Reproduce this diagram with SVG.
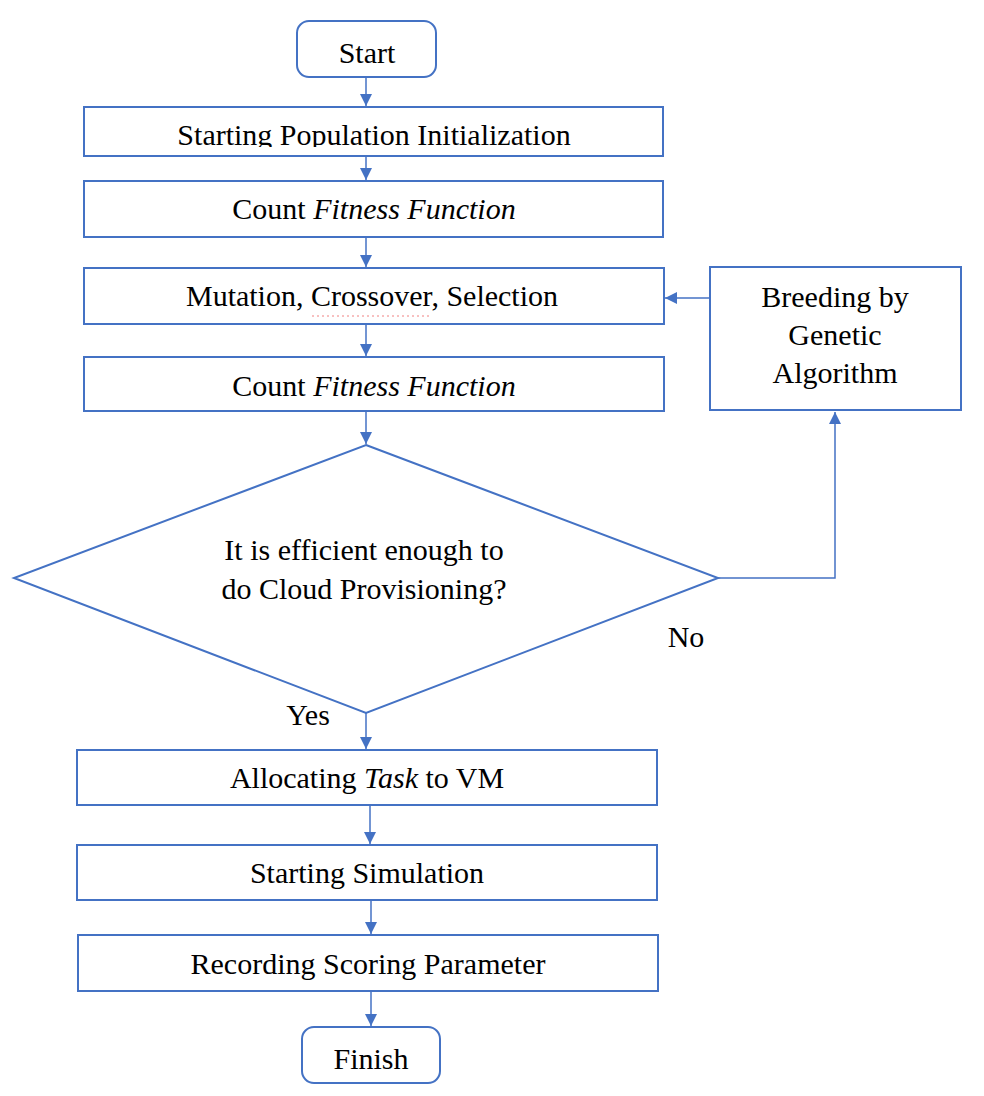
<svg xmlns="http://www.w3.org/2000/svg" width="984" height="1096" viewBox="0 0 984 1096">
<style>
.box{fill:#fff;stroke:#4472C4;stroke-width:2}
.ln{fill:none;stroke:#4472C4;stroke-width:1.5}
.t{font-family:"Liberation Serif","Times New Roman",serif;font-size:30px;fill:#000;text-anchor:middle}
.it{font-style:italic}
</style>
<defs>
<marker id="ah" markerWidth="12" markerHeight="12" refX="12" refY="6" orient="auto" markerUnits="userSpaceOnUse">
<path d="M0,0 L12,6 L0,12 Z" fill="#4472C4"/>
</marker>
<clipPath id="c1"><rect x="84" y="107" width="580" height="40"/></clipPath>
</defs>
<rect width="984" height="1096" fill="#fff"/>
<g id="connectors">
<line class="ln" x1="366" y1="78" x2="366" y2="106" marker-end="url(#ah)"/>
<line class="ln" x1="366" y1="156" x2="366" y2="180" marker-end="url(#ah)"/>
<line class="ln" x1="366" y1="237" x2="366" y2="267" marker-end="url(#ah)"/>
<line class="ln" x1="366" y1="324" x2="366" y2="356" marker-end="url(#ah)"/>
<line class="ln" x1="366" y1="411" x2="366" y2="444" marker-end="url(#ah)"/>
<line class="ln" x1="710" y1="298" x2="665" y2="298" marker-end="url(#ah)"/>
<polyline class="ln" points="718,578 835,578 835,412" marker-end="url(#ah)"/>
<line class="ln" x1="366" y1="713" x2="366" y2="749" marker-end="url(#ah)"/>
<line class="ln" x1="370" y1="805" x2="370" y2="844" marker-end="url(#ah)"/>
<line class="ln" x1="371" y1="900" x2="371" y2="934" marker-end="url(#ah)"/>
<line class="ln" x1="371" y1="991" x2="371" y2="1026" marker-end="url(#ah)"/>
<text class="t" x="686" y="647">No</text>
<text class="t" x="308" y="725">Yes</text>
</g>
<g id="start">
<rect class="box" x="297" y="21" width="139" height="56" rx="12"/>
<text class="t" x="367" y="63">Start</text>
</g>
<g id="init">
<rect class="box" x="84" y="107" width="579" height="49"/>
<text class="t" x="374" y="145" clip-path="url(#c1)">Starting Population Initialization</text>
</g>
<g id="fitness1">
<rect class="box" x="84" y="181" width="579" height="56"/>
<text class="t" x="374" y="219">Count <tspan class="it">Fitness Function</tspan></text>
</g>
<g id="mutation">
<rect class="box" x="84" y="268" width="580" height="56"/>
<text class="t" x="372" y="306">Mutation, Crossover, Selection</text>
<line x1="312" y1="316" x2="432" y2="316" stroke="#f08080" stroke-width="1" stroke-dasharray="2,3"/>
</g>
<g id="fitness2">
<rect class="box" x="84" y="357" width="580" height="54"/>
<text class="t" x="374" y="396">Count <tspan class="it">Fitness Function</tspan></text>
</g>
<g id="breeding">
<rect class="box" x="710" y="267" width="251" height="143"/>
<text class="t" x="835" y="307">Breeding by</text>
<text class="t" x="835" y="345">Genetic</text>
<text class="t" x="835" y="383">Algorithm</text>
</g>
<g id="decision">
<polygon class="box" points="366,445 718,578 366,713 14,578"/>
<text class="t" x="364" y="560">It is efficient enough to</text>
<text class="t" x="364" y="599">do Cloud Provisioning?</text>
</g>
<g id="allocate">
<rect class="box" x="77" y="750" width="580" height="55"/>
<text class="t" x="367" y="788">Allocating <tspan class="it">Task</tspan> to VM</text>
</g>
<g id="simulation">
<rect class="box" x="77" y="845" width="580" height="55"/>
<text class="t" x="367" y="883">Starting Simulation</text>
</g>
<g id="recording">
<rect class="box" x="78" y="935" width="580" height="56"/>
<text class="t" x="368" y="974">Recording Scoring Parameter</text>
</g>
<g id="finish">
<rect class="box" x="302" y="1027" width="138" height="56" rx="12"/>
<text class="t" x="371" y="1069">Finish</text>
</g>
</svg>
